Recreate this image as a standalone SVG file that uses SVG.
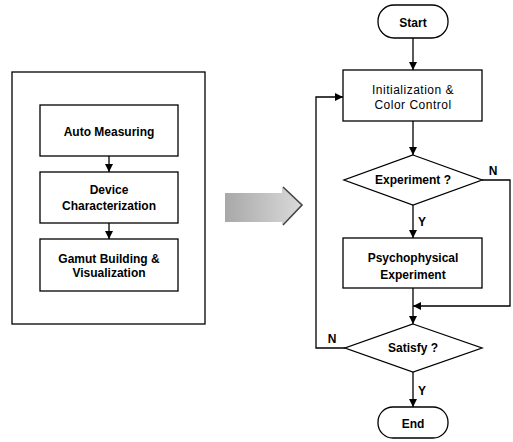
<svg xmlns="http://www.w3.org/2000/svg" width="513" height="442" viewBox="0 0 513 442">
<defs>
<marker id="ah" viewBox="0 0 8 8" refX="8" refY="4" markerWidth="8" markerHeight="8" markerUnits="userSpaceOnUse" orient="auto">
<path d="M0,0 L8,4 L0,8 Z" fill="#000"/>
</marker>
<linearGradient id="ag" x1="0" y1="0" x2="1" y2="0">
<stop offset="0" stop-color="#a8a8a8"/>
<stop offset="1" stop-color="#dadada"/>
</linearGradient>
<style>
.box{fill:#fff;stroke:#000;stroke-width:1.3}
.ln{fill:none;stroke:#000;stroke-width:1.3}
.t{font-family:"Liberation Sans",Arial,sans-serif;font-size:12px;font-weight:bold;text-anchor:middle;fill:#000}
.r{font-weight:normal;letter-spacing:0.5px}
</style>
</defs>
<rect width="513" height="442" fill="#fff"/>

<g id="outer-box">
<rect x="12" y="72" width="193" height="252" class="box"/>
</g>
<g id="auto-measuring">
<rect x="40" y="105" width="138" height="51" class="box"/>
<text x="109" y="136" class="t">Auto Measuring</text>
</g>
<g id="device-characterization">
<rect x="40" y="172" width="138" height="51" class="box"/>
<text x="109" y="194" class="t">Device</text>
<text x="109" y="210" class="t">Characterization</text>
</g>
<g id="gamut-building">
<rect x="40" y="239" width="138" height="52" class="box"/>
<text x="109" y="263" class="t">Gamut Building &amp;</text>
<text x="109" y="277" class="t">Visualization</text>
</g>

<g id="big-arrow">
<path d="M225,193 L282,193 L282,187 L302,205 L282,225 L282,222 L225,222 Z" fill="url(#ag)"/>
<path d="M283,187 L302,205 L283,225" fill="none" stroke="#444" stroke-width="1.6"/>
</g>

<g id="start">
<rect x="378" y="5" width="70" height="33" rx="16" class="box"/>
<text x="413" y="27" class="t">Start</text>
</g>
<g id="init">
<rect x="343" y="70" width="139" height="51" class="box"/>
<text x="413" y="94" class="t r">Initialization &amp;</text>
<text x="413" y="109" class="t r">Color Control</text>
</g>
<g id="experiment-decision">
<polygon points="413,155 482,180 413,205 344,180" class="box"/>
<text x="413" y="184" class="t">Experiment ?</text>
</g>
<g id="psychophysical">
<rect x="343" y="238" width="139" height="50" class="box"/>
<text x="413" y="262" class="t">Psychophysical</text>
<text x="413" y="279" class="t">Experiment</text>
</g>
<g id="satisfy-decision">
<polygon points="413,324 482,348 413,372 345,348" class="box"/>
<text x="413" y="352" class="t">Satisfy ?</text>
</g>
<g id="end">
<rect x="378" y="407" width="70" height="31" rx="15" class="box"/>
<text x="413" y="428" class="t">End</text>
</g>

<g id="connectors">
<line x1="109" y1="156" x2="109" y2="172" class="ln" marker-end="url(#ah)"/>
<line x1="109" y1="223" x2="109" y2="239" class="ln" marker-end="url(#ah)"/>
<line x1="413" y1="38" x2="413" y2="70" class="ln" marker-end="url(#ah)"/>
<line x1="413" y1="121" x2="413" y2="155" class="ln" marker-end="url(#ah)"/>
<line x1="413" y1="205" x2="413" y2="238" class="ln" marker-end="url(#ah)"/>
<polyline points="482,180 510,180 510,306 413,306" class="ln" marker-end="url(#ah)"/>
<line x1="413" y1="288" x2="413" y2="324" class="ln" marker-end="url(#ah)"/>
<line x1="413" y1="372" x2="413" y2="407" class="ln" marker-end="url(#ah)"/>
<polyline points="345,348 316,348 316,97 343,97" class="ln" marker-end="url(#ah)"/>
<text x="493" y="175" class="t">N</text>
<text x="422" y="226" class="t">Y</text>
<text x="332" y="343" class="t">N</text>
<text x="422" y="395" class="t">Y</text>
</g>
</svg>
